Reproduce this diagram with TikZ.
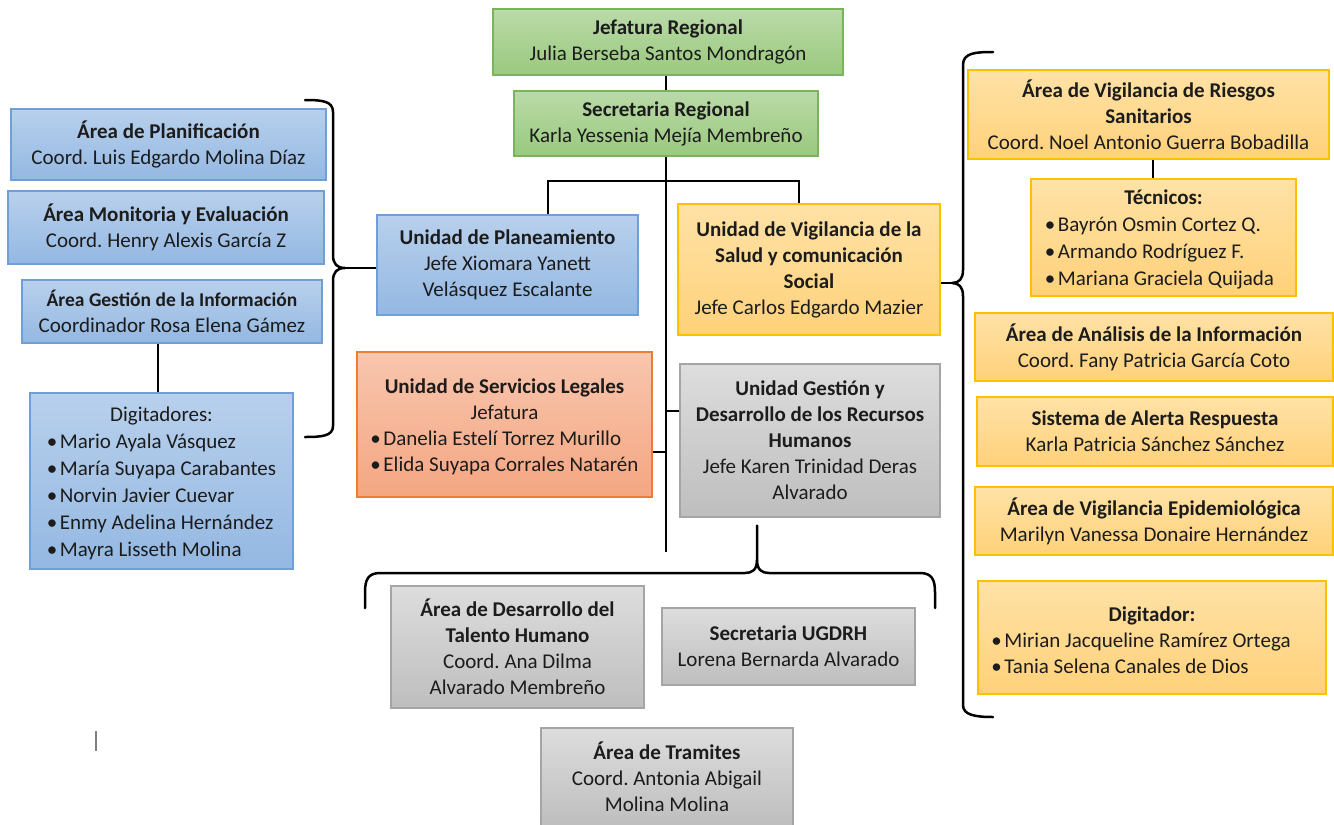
\documentclass[tikz,border=0pt]{standalone}
\usepackage{fontspec}
\setmainfont{Carlito}
\frenchspacing
\definecolor{txt}{RGB}{28,28,28}
\definecolor{blueT}{RGB}{184,208,236}
\definecolor{blueB}{RGB}{148,184,226}
\definecolor{blueD}{RGB}{112,158,214}
\definecolor{greenT}{RGB}{186,218,168}
\definecolor{greenB}{RGB}{154,201,126}
\definecolor{greenD}{RGB}{122,180,88}
\definecolor{orT}{RGB}{255,226,166}
\definecolor{orB}{RGB}{255,209,122}
\definecolor{orD}{RGB}{255,192,0}
\definecolor{saT}{RGB}{248,198,174}
\definecolor{saB}{RGB}{244,166,130}
\definecolor{saD}{RGB}{237,125,49}
\definecolor{grT}{RGB}{221,221,221}
\definecolor{grB}{RGB}{190,190,190}
\definecolor{grD}{RGB}{165,165,165}
\newcommand{\myitem}[1]{\textbullet\hspace{2.5pt}#1}
\tikzset{
  box/.style={draw, line width=1.4pt, inner sep=0pt, align=center, text=txt,
    font=\fontsize{21}{26}\selectfont},
  listbox/.style={font=\fontsize{21}{27}\selectfont},
  bluebox/.style={box, draw=blueD, top color=blueT, bottom color=blueB},
  greenbox/.style={box, draw=greenD, top color=greenT, bottom color=greenB},
  orbox/.style={box, draw=orD, top color=orT, bottom color=orB},
  sabox/.style={box, draw=saD, top color=saT, bottom color=saB},
  grbox/.style={box, draw=grD, top color=grT, bottom color=grB},
  conn/.style={line width=2.5pt, black},
  brace/.style={line width=2.5pt, black, line cap=round, line join=round},
}
\begin{document}
\begin{tikzpicture}[x=1pt,y=-1pt]
\useasboundingbox (0,0) rectangle (1334,825);
% top
\node[greenbox, minimum width=350pt, minimum height=66pt] (jef) at (668,42)
  {\textbf{Jefatura Regional}\\Julia Berseba Santos Mondragón};
\node[greenbox, minimum width=304pt, minimum height=65pt] (sec) at (666,123.5)
  {\textbf{Secretaria Regional}\\Karla Yessenia Mejía Membreño};
% central units
\node[bluebox, minimum width=261pt, minimum height=100pt] (plan) at (507.5,265)
  {\textbf{Unidad de Planeamiento}\\Jefe Xiomara Yanett\\Velásquez Escalante};
\node[orbox, minimum width=262pt, minimum height=131pt] (vig) at (809,269.5)
  {\textbf{Unidad de Vigilancia de la}\\\textbf{Salud y comunicación}\\\textbf{Social}\\Jefe Carlos Edgardo Mazier};
\node[sabox, minimum width=295pt, minimum height=145pt] (leg) at (504.5,424.5)
  {\rule{0pt}{23pt}\textbf{Unidad de Servicios Legales}\\Jefatura\\
   \begin{tabular}[t]{@{}l@{}}\myitem{Danelia Estelí Torrez Murillo}\\\myitem{Elida Suyapa Corrales Natarén}\end{tabular}};
\node[grbox, minimum width=260pt, minimum height=153pt] (ugd) at (810,440.5)
  {\textbf{Unidad Gestión y}\\\textbf{Desarrollo de los Recursos}\\\textbf{Humanos}\\Jefe Karen Trinidad Deras\\Alvarado};
% left column
\node[bluebox, minimum width=315pt, minimum height=71pt] (apl) at (168.5,144.5)
  {\textbf{Área de Planificación}\\Coord. Luis Edgardo Molina Díaz};
\node[bluebox, minimum width=316pt, minimum height=73pt] (amo) at (166,227.5)
  {\textbf{Área Monitoria y Evaluación}\\Coord. Henry Alexis García Z};
\node[bluebox, minimum width=300pt, minimum height=63pt] (agi) at (172,311.5)
  {{\fontsize{19.5}{26}\selectfont\textbf{Área Gestión de la Información}}\\Coordinador Rosa Elena Gámez};
\node[bluebox, listbox, minimum width=263pt, minimum height=176pt] (dig) at (161.5,481)
  {\rule{0pt}{25pt}Digitadores:\\
   \begin{tabular}[t]{@{}l@{}}\myitem{Mario Ayala Vásquez}\\\myitem{María Suyapa Carabantes}\\\myitem{Norvin Javier Cuevar}\\\myitem{Enmy Adelina Hernández}\\\myitem{Mayra Lisseth Molina}\end{tabular}};
% right column
\node[orbox, minimum width=361pt, minimum height=89pt] (ars) at (1148.5,114.5)
  {\textbf{Área de Vigilancia de Riesgos}\\\textbf{Sanitarios}\\Coord. Noel Antonio Guerra Bobadilla};
\node[orbox, listbox, minimum width=265pt, minimum height=117pt] (tec) at (1163.5,237.5)
  {\rule{0pt}{23pt}\textbf{Técnicos:}\\
   \begin{tabular}[t]{@{}l@{}}\myitem{Bayrón Osmin Cortez Q.}\\\myitem{Armando Rodríguez F.}\\\myitem{Mariana Graciela Quijada}\end{tabular}\hspace*{8pt}};
\node[orbox, minimum width=358pt, minimum height=68pt] (aai) at (1154,347)
  {\textbf{Área de Análisis de la Información}\\Coord. Fany Patricia García Coto};
\node[orbox, minimum width=356pt, minimum height=69pt] (sar) at (1155,431.5)
  {\textbf{Sistema de Alerta Respuesta}\\Karla Patricia Sánchez Sánchez};
\node[orbox, minimum width=358pt, minimum height=68pt] (ave) at (1154,521)
  {\textbf{Área de Vigilancia Epidemiológica}\\Marilyn Vanessa Donaire Hernández};
\node[orbox, minimum width=348pt, minimum height=113pt] (dgt) at (1152,637.5)
  {\rule{0pt}{27pt}\textbf{Digitador:}\\
   \begin{tabular}[t]{@{}l@{}}\myitem{Mirian Jacqueline Ramírez Ortega}\\\myitem{Tania Selena Canales de Dios}\end{tabular}\hspace*{22pt}};
% bottom
\node[grbox, minimum width=253pt, minimum height=122pt] (adt) at (517.5,647)
  {\textbf{Área de Desarrollo del}\\\textbf{Talento Humano}\\Coord. Ana Dilma\\Alvarado Membreño};
\node[grbox, minimum width=253pt, minimum height=77pt] (sug) at (788.5,646.5)
  {\textbf{Secretaria UGDRH}\\Lorena Bernarda Alvarado};
\node[grbox, minimum width=252pt, minimum height=98pt] (atr) at (667,777)
  {\textbf{Área de Tramites}\\Coord. Antonia Abigail\\Molina Molina};
% connectors
\draw[conn] (sec.north) -- (sec.north |- jef.south);
\coordinate (mainend) at (666,552);
\coordinate (bar) at (666,181);
\draw[conn] (sec.south) -- (mainend);
\draw[conn] ([xshift=40.5pt]plan.north) |- (bar) -| ([xshift=-10pt]vig.north);
\draw[conn] ([yshift=-27.5pt]leg.east) -- ([yshift=-27.5pt]leg.east -| mainend);
\draw[conn] ([yshift=29.5pt]ugd.west) -- ([yshift=29.5pt]ugd.west -| mainend);
\draw[conn] ([xshift=-3.5pt]dig.north) -- ([xshift=-3.5pt]dig.north |- agi.south);
\draw[conn] ([xshift=4.5pt]ars.south) -- ([xshift=4.5pt]ars.south |- tec.north);
% left brace
\coordinate (lbt) at (345,268);
\draw[brace] (305,100) .. controls (322,100) and (333,101) .. (333,112) -- (333,255)
  .. controls (333,264) and (337,268) .. (lbt)
  .. controls (337,268) and (333,272) .. (333,281) -- (333,426)
  .. controls (333,436) and (322,437) .. (305,437);
\draw[conn] (lbt) -- (plan.west |- lbt);
% right brace
\coordinate (rbt) at (952,283);
\draw[brace] (993,52) .. controls (975,52) and (963,53) .. (963,65) -- (963,270)
  .. controls (963,279) and (959,283) .. (rbt)
  .. controls (959,283) and (963,287) .. (963,296) -- (963,705)
  .. controls (963,715) and (975,717) .. (993,717);
\draw[conn] (rbt) -- (vig.east |- rbt);
% bottom brace
\coordinate (bbs) at ([xshift=-53pt,yshift=-8pt]ugd.south);
\coordinate (bbm) at (757,560);
\draw[brace] (bbs) -- (bbm)
  .. controls (757,570) and (752,573) .. (745,573) -- (380,573)
  .. controls (368,573) and (365,580) .. (365,592) -- (365,608);
\draw[brace] (bbm) .. controls (757,570) and (762,573) .. (769,573) -- (920,573)
  .. controls (932,573) and (935,580) .. (935,592) -- (935,608);
% text cursor
\draw[gray, line width=1.3pt] (96,731) -- (96,751);
\end{tikzpicture}
\end{document}
